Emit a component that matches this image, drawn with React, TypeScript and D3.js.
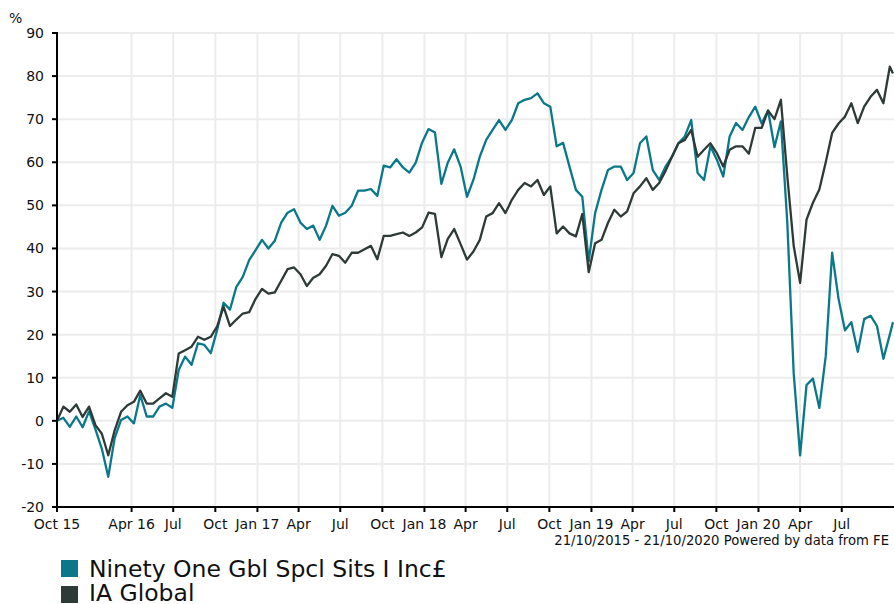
import React from 'react';
import * as d3 from 'd3';

// biweekly observations, 21/10/2015 -> 21/10/2020 (% growth)
const startDate = new Date(2015, 9, 21);
const endDate = new Date(2020, 9, 21);

const fundName = 'Ninety One Gbl Spcl Sits I Inc£';
const sectorName = 'IA Global';

const fundValues = [
  0, 0.7, -1.4, 1, -1.5, 2.2, -2, -6.5, -13, -4,
  0.2, 1, -0.6, 6, 1, 1, 3.3, 4, 3, 11.8,
  14.9, 13, 18, 17.6, 15.7, 21.1, 27.4, 25.8, 31.1, 33.4,
  37.3, 39.6, 42, 40, 41.8, 46, 48.3, 49.1, 46, 44.5,
  45.3, 42, 45.3, 49.9, 47.6, 48.3, 49.9, 53.4, 53.4, 53.8,
  52.2, 59.2, 58.8, 60.7, 58.8, 57.6, 59.9, 64.6, 67.7, 66.9,
  55, 59.9, 63, 59, 52, 55.9, 61.3, 65.2, 67.5, 69.8,
  67.5, 69.8, 73.7, 74.5, 74.9, 76, 73.7, 72.9, 63.7, 64.5,
  59, 53.6, 52, 37, 48.2, 53.6, 58.2, 59, 59, 55.9,
  57.5, 64.4, 66, 58.2, 55.9, 59, 61.3, 64.4, 66, 69.8,
  57.5, 55.9, 63.7, 60.6, 56.7, 66, 69.1, 67.5, 70.5, 72.9,
  69, 72, 63.5, 69.5, 46, 11, -8, 8.3, 9.8, 3,
  15, 39, 28.3, 21, 22.9, 16, 23.6, 24.4, 22, 14.4,
  20, 22.9,
];

const sectorValues = [
  0, 3.3, 2.1, 3.8, 0.9, 3.3, -1, -3, -8, -2.2,
  2.1, 3.6, 4.4, 7, 4, 4, 5.2, 6.4, 5.6, 15.6,
  16.4, 17.2, 19.5, 18.8, 19.5, 21.9, 26.5, 22, 23.5, 24.9,
  25.2, 28.3, 30.6, 29.5, 29.8, 32.5, 35.2, 35.6, 34, 31.3,
  33.2, 34, 36, 38.7, 38.3, 36.7, 39, 39, 39.8, 40.6,
  37.5, 42.9, 42.9, 43.3, 43.7, 42.9, 43.7, 44.9, 48.3, 48,
  38, 42.2, 44.5, 41, 37.4, 39.3, 42, 47.4, 48.2, 50.5,
  48.2, 51.3, 53.6, 55.2, 54.4, 55.9, 52.4, 54.4, 43.5, 45.1,
  43.5, 42.8, 48, 34.5, 41.2, 42, 45.9, 49, 47.4, 48.6,
  52.8, 54.4, 56.3, 53.6, 55.2, 58, 61.3, 64.4, 65.2, 67.5,
  61.3, 62.9, 64.4, 62.1, 59, 62.9, 63.7, 63.7, 62, 68,
  68, 72, 70, 74.5, 56.8, 40.6, 32, 46.7, 50.6, 53.7,
  60, 66.8, 69, 70.6, 73.7, 69.1, 72.9, 75.2, 76.8, 73.7,
  82.2, 80.6,
];

const yTicks = [-20, -10, 0, 10, 20, 30, 40, 50, 60, 70, 80, 90];

const xTickDates = [
  '2015-10-21', '2016-04-01', '2016-07-01', '2016-10-01', '2017-01-01', '2017-04-01',
  '2017-07-01', '2017-10-01', '2018-01-01', '2018-04-01', '2018-07-01', '2018-10-01',
  '2019-01-01', '2019-04-01', '2019-07-01', '2019-10-01', '2020-01-01', '2020-04-01', '2020-07-01',
];
const xTickLabels = [
  'Oct 15', 'Apr 16', 'Jul', 'Oct', 'Jan 17', 'Apr',
  'Jul', 'Oct', 'Jan 18', 'Apr', 'Jul', 'Oct',
  'Jan 19', 'Apr', 'Jul', 'Oct', 'Jan 20', 'Apr', 'Jul',
];

const footer = '21/10/2015 - 21/10/2020 Powered by data from FE';

const fundColor = '#0a7888';
const sectorColor = '#2e3a37';
const font = '"DejaVu Sans", Verdana, sans-serif';

const W = 894;
const H = 604;
const left = 57;
const right = 893;
const top = 33;
const bottom = 507;

export default function App() {
  const dates = fundValues.map((_, i) => {
    const d = d3.timeDay.offset(startDate, i * 14);
    return d > endDate ? endDate : d;
  });

  const x = d3.scaleTime().domain([startDate, endDate]).range([left, right]);
  const y = d3.scaleLinear().domain([-20, 90]).range([bottom, top]);

  const line = d3.line<number>()
    .x((_, i) => x(dates[i]))
    .y(d => y(d));

  const parse = d3.timeParse('%Y-%m-%d');

  return (
    <div style={{ position: 'absolute', left: 0, top: 0 }}>
      <svg width={W} height={H} style={{ display: 'block', background: '#fff' }} fontFamily={font}>
        {/* grid */}
        {yTicks.map(t => (
          <line key={'gy' + t} x1={left} x2={W} y1={y(t)} y2={y(t)} stroke="#ececec" strokeWidth={2} />
        ))}
        {xTickDates.slice(1).map(s => (
          <line key={'gx' + s} x1={x(parse(s)!)} x2={x(parse(s)!)} y1={top} y2={bottom} stroke="#ececec" strokeWidth={2} />
        ))}

        {/* series */}
        <path d={line(fundValues) || ''} fill="none" stroke={fundColor} strokeWidth={2.3} strokeLinejoin="round" />
        <path d={line(sectorValues) || ''} fill="none" stroke={sectorColor} strokeWidth={2.3} strokeLinejoin="round" />

        {/* axes */}
        <line x1={left} x2={left} y1={top - 1} y2={bottom + 1} stroke="#000" strokeWidth={2} />
        <line x1={left - 1} x2={W} y1={bottom} y2={bottom} stroke="#000" strokeWidth={2} />
        {yTicks.map(t => (
          <g key={'ty' + t}>
            <line x1={left - 5} x2={left} y1={y(t)} y2={y(t)} stroke="#000" strokeWidth={2} />
            <text x={left - 13} y={y(t)} dy="0.36em" textAnchor="end" fontSize={14} fill="#111">{t}</text>
          </g>
        ))}
        {xTickDates.map((s, i) => (
          <g key={'tx' + s}>
            <line x1={x(parse(s)!)} x2={x(parse(s)!)} y1={bottom} y2={bottom + 5} stroke="#000" strokeWidth={2} />
            <text x={x(parse(s)!)} y={529} textAnchor="middle" fontSize={14} fill="#111">{xTickLabels[i]}</text>
          </g>
        ))}
        <text x={9} y={23} fontSize={14} fill="#111">%</text>
        <text x={889} y={545} textAnchor="end" fontSize={13.2} fill="#111">{footer}</text>

        {/* legend */}
        <rect x={61} y={560} width={17} height={17} fill={fundColor} />
        <text x={89} y={577} fontSize={23.5} fill="#111">{fundName}</text>
        <rect x={61} y={586} width={17} height={17} fill={sectorColor} />
        <text x={89} y={601} fontSize={23.5} fill="#111">{sectorName}</text>
      </svg>
    </div>
  );
}
